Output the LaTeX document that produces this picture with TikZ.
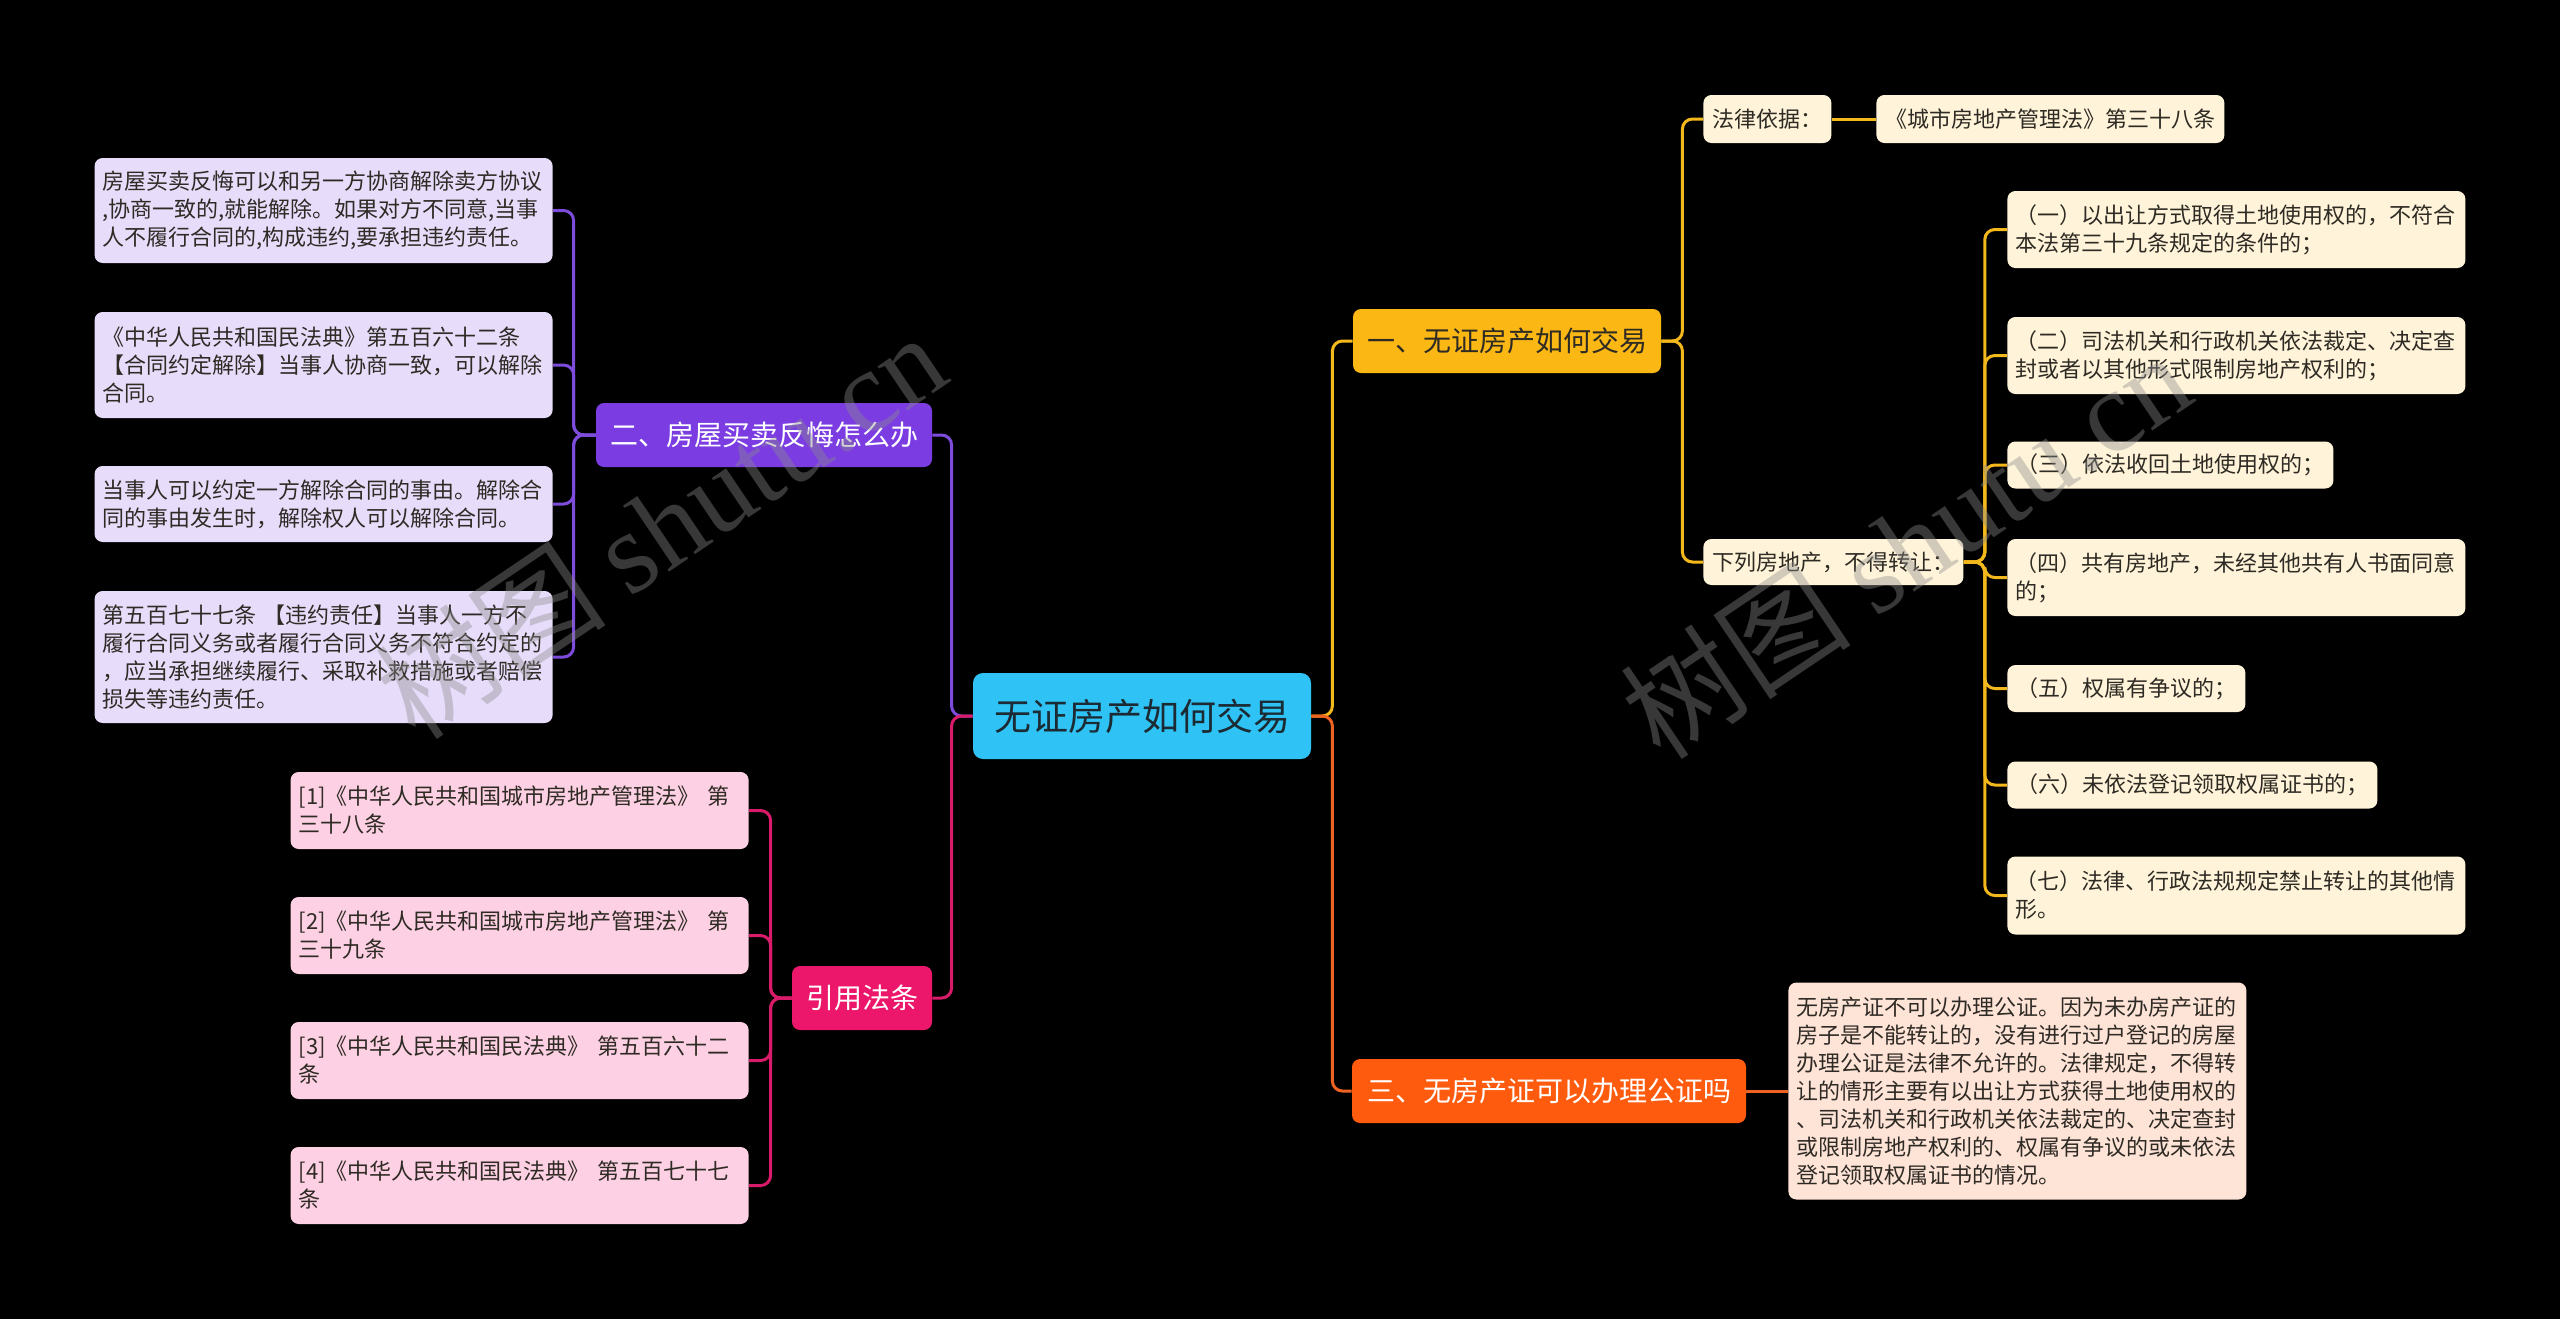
\documentclass[tikz,border=0pt]{standalone}
\usepackage{fontspec}
\setmainfont{Noto Sans CJK SC}
\newfontfamily\wmserif{Liberation Serif}
\definecolor{bgc}{HTML}{000000}
\definecolor{cyanc}{HTML}{2FC3F5}
\definecolor{ctxt}{HTML}{1B2A33}
\definecolor{yelc}{HTML}{FBB814}
\definecolor{yline}{HTML}{F3B81C}
\definecolor{cream}{HTML}{FFF4D9}
\definecolor{purc}{HTML}{7B3DE2}
\definecolor{pline}{HTML}{7E4CDB}
\definecolor{lav}{HTML}{E7DDFB}
\definecolor{pinkc}{HTML}{EC176A}
\definecolor{rline}{HTML}{D91C69}
\definecolor{pinkl}{HTML}{FDD0E3}
\definecolor{orac}{HTML}{FE5B0F}
\definecolor{oline}{HTML}{EE6322}
\definecolor{peach}{HTML}{FEE3D7}
\definecolor{leaftxt}{HTML}{2E2A24}
\tikzset{
  nbase/.style={rounded corners=4pt, inner ysep=0pt},
  central/.style={nbase, rounded corners=5pt, fill=cyanc, text=ctxt, font=\fontsize{18.5pt}{22pt}\selectfont, minimum width=169pt, minimum height=43pt, inner xsep=0pt},
  branch/.style={nbase, font=\fontsize{14pt}{17pt}\selectfont, minimum height=32pt, inner xsep=0pt},
  leaf/.style={nbase, font=\fontsize{11pt}{14pt}\selectfont, text=leaftxt, align=left, inner xsep=4.5pt},
  wide/.style={leaf, text width=221pt, inner xsep=4pt},
  conn/.style={line width=1.5pt, rounded corners=5pt},
  wm/.style={font=\fontsize{58pt}{60pt}\selectfont, text=gray!90!white, opacity=0.4, inner sep=0pt}
}
\begin{document}
\begin{tikzpicture}[x=0.5pt,y=-0.5pt]
\fill[bgc] (0,0) rectangle (2560,1319);
\useasboundingbox (0,0) rectangle (2560,1319);

% central and branches
\node[central] (c) at (1142,716) {无证房产如何交易};
\node[branch, fill=yelc, text=leaftxt, minimum width=154pt] (b1) at (1507,341) {一、无证房产如何交易};
\node[branch, fill=purc, text=white, minimum width=168pt] (b2) at (764,435) {二、房屋买卖反悔怎么办};
\node[branch, fill=orac, text=white, minimum width=197pt] (b3) at (1549,1091) {三、无房产证可以办理公证吗};
\node[branch, fill=pinkc, text=white, minimum width=70pt] (b4) at (862,998) {引用法条};

% branch 1 children
\node[leaf, fill=cream, anchor=west, minimum height=24pt] (f1) at (1703,119) {法律依据：};
\node[leaf, fill=cream, anchor=west, minimum height=24pt] (f2) at (1876,119) {《城市房地产管理法》第三十八条};
\node[leaf, fill=cream, anchor=west, minimum height=23pt] (g) at (1703,562) {下列房地产，不得转让：};

\node[wide, fill=cream, anchor=west, minimum height=38.5pt] (i1) at (2007,229.5) {（一）以出让方式取得土地使用权的，不符合\\本法第三十九条规定的条件的；};
\node[wide, fill=cream, anchor=west, minimum height=38.5pt] (i2) at (2007,355.5) {（二）司法机关和行政机关依法裁定、决定查\\封或者以其他形式限制房地产权利的；};
\node[leaf, fill=cream, anchor=west, minimum height=23.5pt] (i3) at (2007,465) {（三）依法收回土地使用权的；};
\node[wide, fill=cream, anchor=west, minimum height=38.5pt] (i4) at (2007,577.5) {（四）共有房地产，未经其他共有人书面同意\\的；};
\node[leaf, fill=cream, anchor=west, minimum height=23.5pt] (i5) at (2007,688.5) {（五）权属有争议的；};
\node[leaf, fill=cream, anchor=west, minimum height=23.5pt] (i6) at (2007,785) {（六）未依法登记领取权属证书的；};
\node[wide, fill=cream, anchor=west, minimum height=39pt] (i7) at (2007,895.5) {（七）法律、行政法规规定禁止转让的其他情\\形。};

% branch 2 children
\node[wide, fill=lav, anchor=east, minimum height=52.5pt] (l1) at (553,210.5) {房屋买卖反悔可以和另一方协商解除卖方协议\\,协商一致的,就能解除。如果对方不同意,当事\\人不履行合同的,构成违约,要承担违约责任。};
\node[wide, fill=lav, anchor=east, minimum height=53pt] (l2) at (553,365) {《中华人民共和国民法典》第五百六十二条\\【合同约定解除】当事人协商一致，可以解除\\合同。};
\node[wide, fill=lav, anchor=east, minimum height=38pt] (l3) at (553,504) {当事人可以约定一方解除合同的事由。解除合\\同的事由发生时，解除权人可以解除合同。};
\node[wide, fill=lav, anchor=east, minimum height=66pt] (l4) at (553,657) {第五百七十七条 【违约责任】当事人一方不\\履行合同义务或者履行合同义务不符合约定的\\，应当承担继续履行、采取补救措施或者赔偿\\损失等违约责任。};

% branch 3 child
\node[wide, fill=peach, anchor=west, minimum height=108.5pt] (t3) at (1788,1091) {无房产证不可以办理公证。因为未办房产证的\\房子是不能转让的，没有进行过户登记的房屋\\办理公证是法律不允许的。法律规定，不得转\\让的情形主要有以出让方式获得土地使用权的\\、司法机关和行政机关依法裁定的、决定查封\\或限制房地产权利的、权属有争议的或未依法\\登记领取权属证书的情况。};

% references
\node[wide, fill=pinkl, anchor=east, minimum height=38.5pt] (r1) at (749,810.5) {[1]《中华人民共和国城市房地产管理法》 第\\三十八条};
\node[wide, fill=pinkl, anchor=east, minimum height=38.5pt] (r2) at (749,935.5) {[2]《中华人民共和国城市房地产管理法》 第\\三十九条};
\node[wide, fill=pinkl, anchor=east, minimum height=38.5pt] (r3) at (749,1060.5) {[3]《中华人民共和国民法典》 第五百六十二\\条};
\node[wide, fill=pinkl, anchor=east, minimum height=38.5pt] (r4) at (749,1185.5) {[4]《中华人民共和国民法典》 第五百七十七\\条};

% connectors
\draw[conn, yline] (c.east) -- ++(21,0) |- (b1.west);
\draw[conn, oline] (c.east) -- ++(21,0) |- (b3.west);
\draw[conn, pline] (c.west) -- ++(-21,0) |- (b2.east);
\draw[conn, rline] (c.west) -- ++(-21,0) |- (b4.east);

\draw[conn, yline] (b1.east) -- ++(21,0) |- (f1.west);
\draw[conn, yline] (b1.east) -- ++(21,0) |- (g.west);
\draw[conn, yline] (f1.east) -- (f2.west);
\foreach \n in {i1,i2,i3,i4,i5,i6,i7}{
  \draw[conn, yline] (g.east) -- ++(21,0) |- (\n.west);
}
\foreach \n in {l1,l2,l3,l4}{
  \draw[conn, pline] (b2.west) -- ++(-22,0) |- (\n.east);
}
\foreach \n in {r1,r2,r3,r4}{
  \draw[conn, rline] (b4.west) -- ++(-21,0) |- (\n.east);
}
\draw[conn, oline] (b3.east) -- (t3.west);

% watermarks
\node[wm, rotate=34] (wm1) at (660,525) {树图 {\wmserif shutu.cn}};
\node[wm, rotate=34] (wm2) at (1905,545) {树图 {\wmserif shutu.cn}};
\end{tikzpicture}
\end{document}
